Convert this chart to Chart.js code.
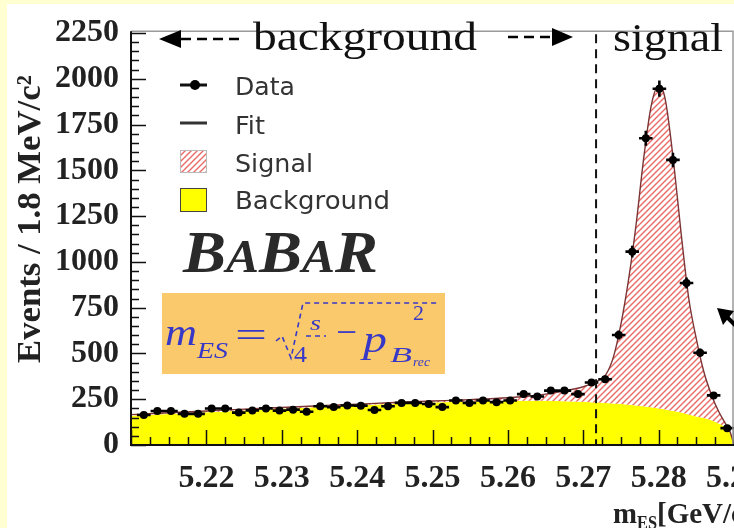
<!DOCTYPE html>
<html>
<head>
<meta charset="utf-8">
<script src="https://cdn.jsdelivr.net/npm/chart.js@4.4.0/dist/chart.umd.min.js"></script>
<style>
html, body { margin: 0; padding: 0; width: 734px; height: 528px; overflow: hidden; background: #ffffd2; }
#panel { position: absolute; left: 7px; top: 4px; right: 0; bottom: 0; background: #fff; }
#wrap { position: absolute; left: 0; top: 0; width: 780px; height: 528px; }
</style>
</head>
<body>
<div id="panel"></div>
<div id="wrap"><canvas id="myChart" width="780" height="528"></canvas></div>
<script>
// mES bin centres (1.8 MeV bins) and event counts
var binCenters = [5.2117, 5.2135, 5.2153, 5.2171, 5.2189, 5.2207, 5.2225, 5.2243, 5.2261, 5.2279,
  5.2297, 5.2315, 5.2333, 5.2351, 5.2369, 5.2387, 5.2405, 5.2423, 5.2441, 5.2459,
  5.2477, 5.2495, 5.2513, 5.2531, 5.2549, 5.2567, 5.2585, 5.2603, 5.2621, 5.2639,
  5.2657, 5.2675, 5.2693, 5.2711, 5.2729, 5.2747, 5.2765, 5.2783, 5.2801, 5.2819,
  5.2837, 5.2855, 5.2873, 5.2891];
var events = [164, 186, 186, 170, 170, 199, 199, 177, 189, 200,
  188, 193, 182, 212, 207, 216, 215, 191, 212, 230,
  230, 224, 207, 243, 230, 243, 234, 243, 278, 265,
  297, 297, 278, 341, 359, 601, 1056, 1675, 1946, 1557,
  885, 504, 271, 92];
var binHalfWidth = 0.0009;

// fit curves
var fitX = [5.2100, 5.2150, 5.2200, 5.2250, 5.2300, 5.2350, 5.2400, 5.2450, 5.2500, 5.2550,
  5.2600, 5.2625, 5.2650, 5.2675, 5.2700, 5.2710, 5.2720, 5.2730, 5.2740, 5.2750,
  5.2760, 5.2770, 5.2780, 5.2790, 5.2800, 5.2805, 5.2810, 5.2820, 5.2830, 5.2840,
  5.2850, 5.2860, 5.2870, 5.2880, 5.2890, 5.2895, 5.2900];
var fitBackground = [160, 169, 179, 189, 198, 208, 217, 225, 232, 238,
  241, 241, 241, 239, 236, 234, 232, 230, 227, 224,
  220, 216, 211, 206, 200, 197, 193, 186, 177, 167,
  155, 147, 135, 118, 92, 65, 0];
var fitTotal = [166, 176, 186, 196, 205, 214, 223, 232, 240, 248,
  258, 266, 278, 295, 318, 332, 352, 385, 480, 660,
  900, 1200, 1560, 1850, 1962, 1945, 1860, 1540, 1150, 800,
  580, 400, 275, 180, 108, 70, 0];

var yTicks = [0, 250, 500, 750, 1000, 1250, 1500, 1750, 2000, 2250];
var xTicks = [5.22, 5.23, 5.24, 5.25, 5.26, 5.27, 5.28, 5.29];
var xTickLabels = ["5.22", "5.23", "5.24", "5.25", "5.26", "5.27", "5.28", "5.29"];
var legendLabels = ["Data", "Fit", "Signal", "Background"];
var signalCut = 5.2717;

var ctx = document.getElementById("myChart").getContext("2d");

function makeHatch() {
  var c = document.createElement("canvas");
  c.width = 6; c.height = 6;
  var g = c.getContext("2d");
  g.fillStyle = "#ffffff";
  g.fillRect(0, 0, 6, 6);
  g.strokeStyle = "#ea6b66";
  g.lineWidth = 1.4;
  g.beginPath();
  g.moveTo(-1, 7); g.lineTo(7, -1);
  g.moveTo(-1, 1); g.lineTo(1, -1);
  g.moveTo(5, 7); g.lineTo(7, 5);
  g.stroke();
  return ctx.createPattern(c, "repeat");
}
var hatch = makeHatch();

function fitText(c, str, x, y, font, color, width, align) {
  c.save();
  c.font = font;
  c.fillStyle = color;
  var w = c.measureText(str).width;
  var sx = width ? width / w : 1;
  c.translate(x, y);
  c.scale(sx, 1);
  c.textAlign = align || "left";
  c.fillText(str, 0, 0);
  c.restore();
  return w * sx;
}

var axesPlugin = {
  id: "axesPlugin",
  afterDatasetsDraw: function (chart) {
    var c = chart.ctx, a = chart.chartArea, xs = chart.scales.x, ys = chart.scales.y;
    c.save();
    // error bars
    c.strokeStyle = "#000";
    c.lineWidth = 2.6;
    c.beginPath();
    binCenters.forEach(function (x, i) {
      var px = xs.getPixelForValue(x), py = ys.getPixelForValue(events[i]);
      var hx = xs.getPixelForValue(x + binHalfWidth) - px;
      var e = Math.sqrt(events[i]);
      c.moveTo(px - hx, py); c.lineTo(px + hx, py);
      c.moveTo(px, ys.getPixelForValue(events[i] + e));
      c.lineTo(px, ys.getPixelForValue(events[i] - e));
    });
    c.stroke();
    // signal region cut
    var xc = xs.getPixelForValue(signalCut);
    c.setLineDash([9, 6]);
    c.lineWidth = 2;
    c.strokeStyle = "#111";
    c.beginPath();
    c.moveTo(xc, a.top + 3); c.lineTo(xc, a.bottom);
    c.stroke();
    c.setLineDash([]);
    // frame
    c.strokeStyle = "#9a9a9a";
    c.lineWidth = 1.5;
    c.beginPath();
    c.moveTo(a.left, a.top); c.lineTo(a.right - 1, a.top); c.lineTo(a.right - 1, a.bottom);
    c.stroke();
    c.strokeStyle = "#111";
    c.lineWidth = 2;
    c.beginPath();
    c.moveTo(a.left, a.top); c.lineTo(a.left, a.bottom); c.lineTo(a.right, a.bottom);
    c.stroke();
    // inward ticks
    c.lineWidth = 1.5;
    c.beginPath();
    for (var v = 0; v <= 2250; v += 50) {
      var py = Math.round(ys.getPixelForValue(v)) + 0.5;
      var len = v % 250 === 0 ? 15 : 8;
      c.moveTo(a.left, py); c.lineTo(a.left + len, py);
    }
    for (var k = 0; k <= 32; k++) {
      var px = Math.round(xs.getPixelForValue(5.21 + k * 0.0025)) + 0.5;
      var l2 = k % 4 === 0 ? 15 : 8;
      c.moveTo(px, a.bottom); c.lineTo(px, a.bottom - l2);
    }
    c.stroke();
    c.restore();
  }
};

var notesPlugin = {
  id: "notesPlugin",
  afterDraw: function (chart) {
    var c = chart.ctx;
    c.save();
    c.fillStyle = "#000";
    c.strokeStyle = "#000";
    // background / signal arrows
    c.beginPath(); c.moveTo(159, 39); c.lineTo(181, 30); c.lineTo(181, 48); c.closePath(); c.fill();
    c.lineWidth = 2.5;
    c.setLineDash([10, 6]);
    c.beginPath(); c.moveTo(181, 39); c.lineTo(242, 39); c.stroke();
    c.beginPath(); c.moveTo(508, 37); c.lineTo(552, 37); c.stroke();
    c.setLineDash([]);
    c.beginPath(); c.moveTo(573, 37); c.lineTo(552, 28); c.lineTo(552, 46); c.closePath(); c.fill();
    fitText(c, "background", 253, 50, "40px 'Liberation Serif'", "#111", 224);
    fitText(c, "signal", 613, 51, "40px 'Liberation Serif'", "#111", 110);
    // pointer arrow at right edge
    c.beginPath(); c.moveTo(717, 308); c.lineTo(734, 311); c.lineTo(723, 325); c.closePath(); c.fill();
    c.lineWidth = 4;
    c.beginPath(); c.moveTo(726, 316); c.lineTo(745, 335); c.stroke();

    // legend
    var lx = 180, lw = 27;
    c.lineWidth = 3;
    c.strokeStyle = "#111";
    c.beginPath(); c.moveTo(lx, 85); c.lineTo(lx + lw, 85); c.stroke();
    c.beginPath(); c.arc(195, 85, 5, 0, Math.PI * 2); c.fill();
    c.strokeStyle = "#333";
    c.beginPath(); c.moveTo(lx, 123); c.lineTo(lx + lw, 123); c.stroke();
    c.fillStyle = hatch;
    c.fillRect(lx, 150, lw, 23);
    c.lineWidth = 1;
    c.strokeStyle = "#bbb";
    c.strokeRect(lx + 0.5, 150.5, lw - 1, 22);
    c.fillStyle = "#ffff00";
    c.fillRect(lx, 188, lw, 24);
    c.strokeStyle = "#444";
    c.strokeRect(lx + 0.5, 188.5, lw - 1, 23);
    var lf = "24px 'DejaVu Sans'";
    fitText(c, legendLabels[0], 235, 95, lf, "#333", 60);
    fitText(c, legendLabels[1], 235, 134, lf, "#333", 30);
    fitText(c, legendLabels[2], 235, 172, lf, "#333", 78);
    fitText(c, legendLabels[3], 235, 209, lf, "#333", 155);

    // BABAR logo
    var letters = [["B", 60], ["A", 46], ["B", 60], ["A", 46], ["R", 60]];
    var tot = 0;
    letters.forEach(function (l) { c.font = "italic bold " + l[1] + "px 'Liberation Serif'"; tot += c.measureText(l[0]).width; });
    c.save();
    c.translate(183, 272);
    c.scale(195 / tot, 1);
    c.fillStyle = "#2a2a2a";
    var bx = 0;
    letters.forEach(function (l) {
      c.font = "italic bold " + l[1] + "px 'Liberation Serif'";
      c.fillText(l[0], bx, 0);
      bx += c.measureText(l[0]).width;
    });
    c.restore();

    // formula box
    c.fillStyle = "#f9c96b";
    c.fillRect(162, 293, 283, 81);
    var blue = "#3838c8";
    fitText(c, "m", 165, 345, "italic 38px 'Liberation Serif'", blue, 32);
    fitText(c, "ES", 197, 358, "italic 24px 'Liberation Serif'", blue, 31);
    fitText(c, "=", 235, 347, "36px 'Liberation Serif'", blue, 32);
    c.strokeStyle = blue;
    c.lineWidth = 1.6;
    c.setLineDash([5, 4]);
    c.beginPath();
    c.moveTo(276, 341); c.lineTo(282, 336); c.lineTo(291, 358); c.lineTo(303, 303); c.lineTo(440, 303);
    c.stroke();
    c.beginPath(); c.moveTo(306, 336); c.lineTo(326, 336); c.stroke();
    c.setLineDash([]);
    fitText(c, "s", 310, 330, "italic 22px 'Liberation Serif'", blue, 11);
    fitText(c, "4", 294, 362, "24px 'Liberation Serif'", blue, 13);
    fitText(c, "\u2212", 336, 344, "36px 'Liberation Serif'", blue, 21);
    fitText(c, "p", 363, 352, "italic 38px 'Liberation Serif'", blue, 24);
    fitText(c, "2", 413, 320, "22px 'Liberation Serif'", blue, 11);
    fitText(c, "B", 390, 362, "italic 22px 'Liberation Serif'", blue, 22);
    fitText(c, "rec", 413, 366, "italic 13px 'Liberation Serif'", blue, 17);

    // axis titles
    c.save();
    c.translate(40, 219);
    c.rotate(-Math.PI / 2);
    fitText(c, "Events / 1.8 MeV/c\u00b2", 0, 0, "bold 33px 'Liberation Serif'", "#222", 288, "center");
    c.restore();
    var tf = "bold 29px 'Liberation Serif'";
    var w1 = fitText(c, "m", 613, 523, tf, "#222", 24);
    var w2 = fitText(c, "ES", 613 + w1, 529, "bold 18px 'Liberation Serif'", "#222", 20);
    fitText(c, "[GeV/c\u00b2]", 613 + w1 + w2, 523, tf, "#222");
    c.restore();
  }
};

var myChart = new Chart(ctx, {
  type: "line",
  data: {
    datasets: [
      {
        label: "Data",
        data: binCenters.map(function (x, i) { return { x: x, y: events[i] }; }),
        showLine: false,
        pointRadius: 4,
        pointBackgroundColor: "#000",
        pointBorderWidth: 0,
      },
      {
        label: "Fit",
        data: fitX.map(function (x, i) { return { x: x, y: fitTotal[i] }; }),
        borderColor: "#7d3434",
        borderWidth: 1.4,
        pointRadius: 0,
        cubicInterpolationMode: "monotone",
        fill: { target: 2 },
        backgroundColor: hatch,
      },
      {
        label: "Background",
        data: fitX.map(function (x, i) { return { x: x, y: fitBackground[i] }; }),
        borderWidth: 0,
        borderColor: "rgba(0,0,0,0)",
        pointRadius: 0,
        cubicInterpolationMode: "monotone",
        fill: "origin",
        backgroundColor: "#ffff00",
      },
    ],
  },
  options: {
    responsive: false,
    animation: false,
    devicePixelRatio: 1,
    layout: { padding: { left: 0, top: 19, right: 46, bottom: 0 } },
    plugins: { legend: { display: false }, tooltip: { enabled: false } },
    scales: {
      x: {
        type: "linear",
        min: 5.21,
        max: 5.29,
        afterBuildTicks: function (s) { s.ticks = xTicks.map(function (v) { return { value: v }; }); },
        afterFit: function (s) { s.height = 83; },
        grid: { display: false, drawTicks: false },
        border: { display: false },
        ticks: {
          autoSkip: false,
          maxRotation: 0,
          padding: 15,
          color: "#222",
          font: { family: "'Liberation Serif', serif", weight: "bold", size: 32 },
          callback: function (v, i) { return xTickLabels[i]; },
        },
      },
      y: {
        min: 0,
        max: 2260,
        afterBuildTicks: function (s) { s.ticks = yTicks.map(function (v) { return { value: v }; }); },
        afterFit: function (s) { s.width = 131; },
        grid: { display: false, drawTicks: false },
        border: { display: false },
        ticks: {
          padding: 12,
          color: "#222",
          font: { family: "'Liberation Serif', serif", weight: "bold", size: 32 },
          callback: function (v) { return String(v); },
        },
      },
    },
  },
  plugins: [axesPlugin, notesPlugin],
});
</script>
</body>
</html>
